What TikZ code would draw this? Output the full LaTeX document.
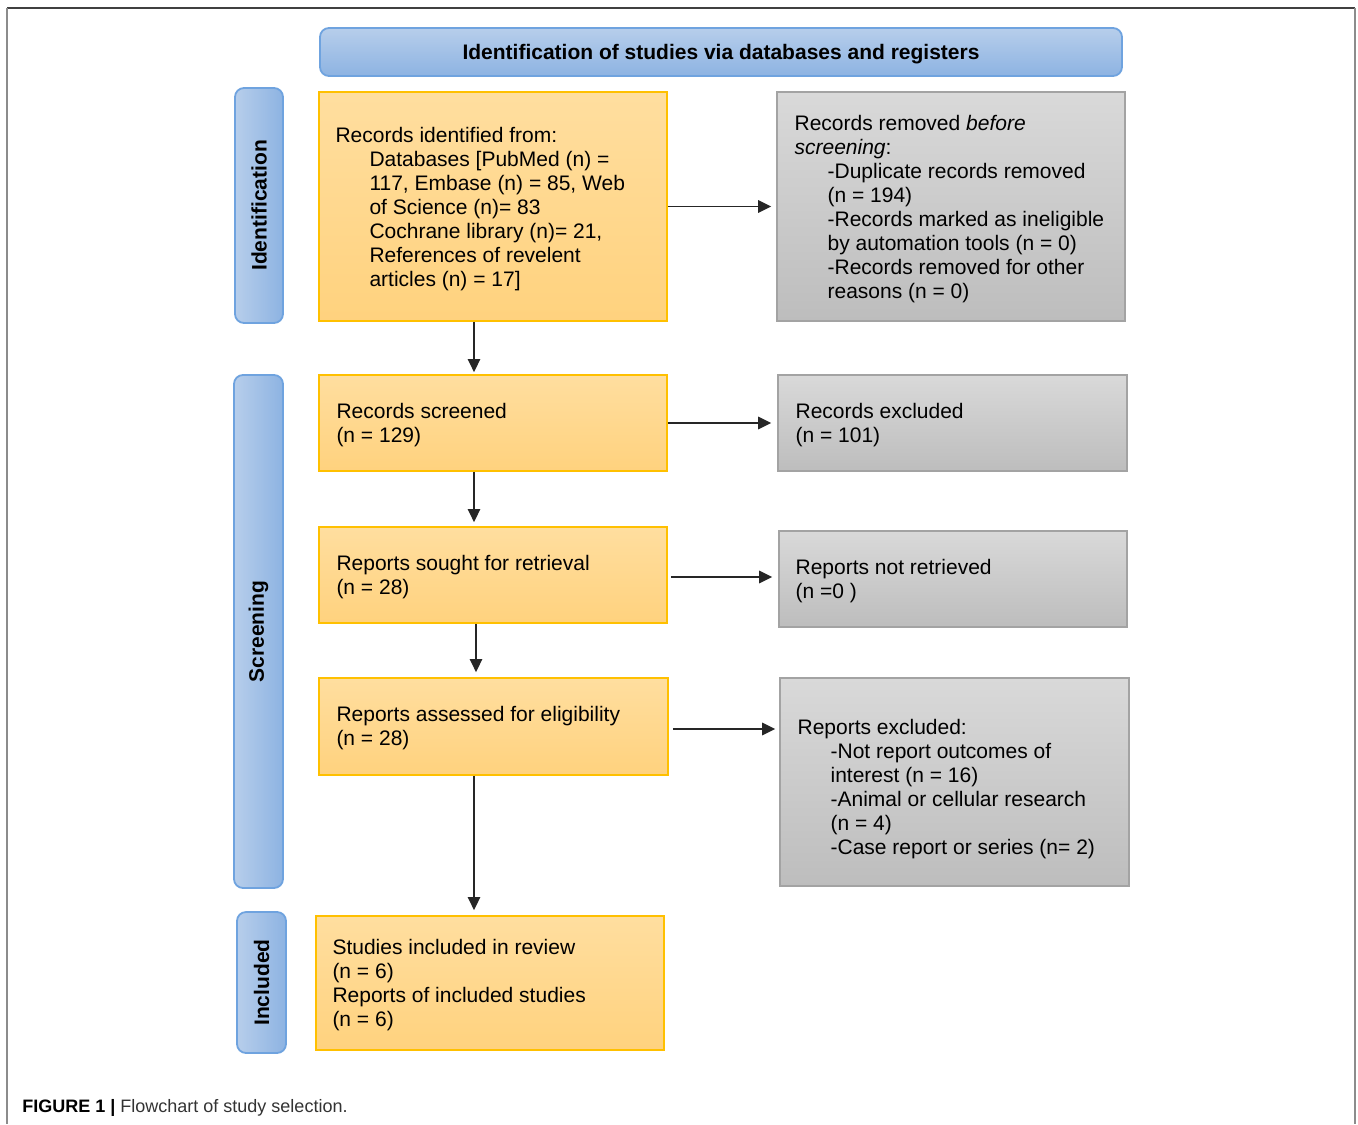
\documentclass[tikz,border=0pt]{standalone}
\usepackage{fontspec}
\setmainfont{Liberation Sans}
\usetikzlibrary{arrows.meta,calc}
\definecolor{orgTop}{HTML}{FFDE9F}
\definecolor{orgBot}{HTML}{FFD27E}
\definecolor{orgLine}{HTML}{FFC000}
\definecolor{gryTop}{HTML}{D9D9D9}
\definecolor{gryBot}{HTML}{BDBDBD}
\definecolor{gryLine}{HTML}{A3A3A3}
\definecolor{bluLight}{HTML}{B7CEEB}
\definecolor{bluDark}{HTML}{8DB3E2}
\definecolor{bluLine}{HTML}{6FA3DF}
\newcommand\indA{\hspace*{17pt}}
\newcommand\indB{\hspace*{16.5pt}}
\begin{document}
\begin{tikzpicture}[x=0.5pt,y=-0.5pt, font=\fontsize{10.5pt}{12pt}\selectfont,
 obox/.style={draw=orgLine, line width=0.9pt, top color=orgTop, bottom color=orgBot, inner sep=0pt},
 gbox/.style={draw=gryLine, line width=0.8pt, top color=gryTop, bottom color=gryBot, inner sep=0pt},
 hbox/.style={draw=bluLine, line width=0.9pt, rounded corners=4.5pt, top color=bluLight, bottom color=bluDark, inner sep=0pt},
 htext/.style={inner sep=0pt, font=\fontsize{10.5pt}{12pt}\selectfont\bfseries},
 sbox/.style={draw=bluLine, line width=0.9pt, rounded corners=4.5pt, left color=bluLight, right color=bluDark, inner sep=0pt},
 slabel/.style={rotate=90, inner sep=0pt, font=\fontsize{10.5pt}{12pt}\selectfont\bfseries},
 txt/.style={anchor=west, align=left, inner sep=0pt},
 arr/.style={draw=black!85, line width=0.8pt, -{Triangle[length=6.5pt,width=6.2pt]}}
]
\useasboundingbox (0,0) rectangle (1358,1124);
% outer frame
\draw[black!75, line width=0.8pt] (7,8) -- (1355,8);
\draw[black!45, line width=0.6pt] (7,8) -- (7,1124);
\draw[black!45, line width=0.6pt] (1355,8) -- (1355,1124);

% header
\node[hbox, minimum width=401pt, minimum height=24pt] (head) at (721,52) {};
\node[htext] (headt) at ([yshift=-1pt]head.center) {Identification of studies via databases and registers};

% side labels
\node[sbox, minimum width=24pt, minimum height=117.5pt] (sI) at (259,205.5) {};
\node[slabel] (sIt) at (sI.center) {Identification};
\node[sbox, minimum width=24.5pt, minimum height=256.5pt] (sS) at (258.5,631.5) {};
\node[slabel] (sSt) at (sS.center) {Screening};
\node[sbox, minimum width=24.5pt, minimum height=70.5pt] (sN) at (261.5,982.5) {};
\node[slabel] (sNt) at (sN.center) {Included};

% left column
\node[obox, minimum width=174pt, minimum height=114.5pt] (b1) at (493,206.5) {};
\node[txt] (b1t) at ([xshift=8.5pt,yshift=-1.25pt]b1.west) {Records identified from:\\
\indA Databases [PubMed (n) =\\
\indA 117, Embase (n) = 85, Web\\
\indA of Science (n)= 83\\
\indA Cochrane library (n)= 21,\\
\indA References of revelent\\
\indA articles (n) = 17]};

\node[obox, minimum width=174pt, minimum height=48pt] (b2) at (493,423) {};
\node[txt] (b2t) at ([xshift=9pt,yshift=-1pt]b2.west) {Records screened\\(n = 129)};

\node[obox, minimum width=174pt, minimum height=48pt] (b3) at (493,575) {};
\node[txt] (b3t) at ([xshift=9pt,yshift=-1pt]b3.west) {Reports sought for retrieval\\(n = 28)};

\node[obox, minimum width=174.5pt, minimum height=48.5pt] (b4) at (493.5,726.5) {};
\node[txt] (b4t) at ([xshift=9pt,yshift=-1pt]b4.west) {Reports assessed for eligibility\\(n = 28)};

\node[obox, minimum width=174pt, minimum height=67pt] (b5) at (490,983) {};
\node[txt] (b5t) at ([xshift=8.5pt,yshift=-1.25pt]b5.west) {Studies included in review\\(n = 6)\\Reports of included studies\\(n = 6)};

% right column
\node[gbox, minimum width=174pt, minimum height=114.5pt] (g1) at (951,206.5) {};
\node[txt] (g1t) at ([xshift=9pt,yshift=-1.25pt]g1.west) {Records removed \textit{before}\\
\textit{screening}:\\
\indB -Duplicate records removed\\
\indB (n = 194)\\
\indB -Records marked as ineligible\\
\indB by automation tools (n = 0)\\
\indB -Records removed for other\\
\indB reasons (n = 0)};

\node[gbox, minimum width=174.5pt, minimum height=48pt] (g2) at (952.5,423) {};
\node[txt] (g2t) at ([xshift=9pt,yshift=-1pt]g2.west) {Records excluded\\(n = 101)};

\node[gbox, minimum width=174pt, minimum height=48pt] (g3) at (953,579) {};
\node[txt] (g3t) at ([xshift=8.5pt,yshift=-1pt]g3.west) {Reports not retrieved\\(n =0 )};

\node[gbox, minimum width=174.5pt, minimum height=104pt] (g4) at (954.5,782) {};
\node[txt] (g4t) at ([xshift=9pt,yshift=-3.5pt]g4.west) {Reports excluded:\\
\indB -Not report outcomes of\\
\indB interest (n = 16)\\
\indB -Animal or cellular research\\
\indB (n = 4)\\
\indB -Case report or series (n= 2)};

% arrows horizontal
\draw[arr, shorten >=2.5pt] (b1.east) -- (b1.east -| g1.west);
\draw[arr, shorten >=3pt] (b2.east) -- (b2.east -| g2.west);
\draw[arr, shorten <=1.5pt, shorten >=3pt] ([yshift=-1pt]b3.east) -- ([yshift=-1pt]b3.east -| g3.west);
\draw[arr, shorten <=2pt, shorten >=2pt] ([yshift=-1.25pt]b4.east) -- ([yshift=-1.25pt]b4.east -| g4.west);

% arrows vertical
\draw[arr, shorten >=1pt] ([xshift=-9.5pt]b1.south) -- ([xshift=-9.5pt]b1.south |- b2.north);
\draw[arr, shorten >=2pt] ([xshift=-9.5pt]b2.south) -- ([xshift=-9.5pt]b2.south |- b3.north);
\draw[arr, shorten >=2.5pt] ([xshift=-8.5pt]b3.south) -- ([xshift=-8.5pt]b3.south |- b4.north);
\draw[arr, shorten >=2.5pt] ([xshift=-9.75pt]b4.south) -- ([xshift=-9.75pt]b4.south |- b5.north);

% caption
\node[anchor=base west, inner sep=0pt, font=\fontsize{9pt}{11pt}\selectfont] (cap) at (22,1112) {\textbf{FIGURE 1 |} \textcolor{black!80}{Flowchart of study selection.}};
\end{tikzpicture}
\end{document}
